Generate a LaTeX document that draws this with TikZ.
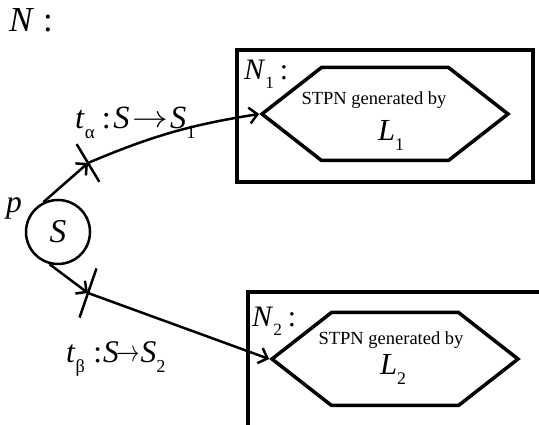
\documentclass[tikz,border=0pt]{standalone}
\usepackage{fontspec}
\setmainfont{Liberation Serif}
\usetikzlibrary{arrows.meta,shapes.symbols}
% lowered small index used in the labels
\newcommand\lowsub[1]{\raisebox{-0.3em}{\scalebox{0.58}{#1}}}
% stretched arrow of the transition labels
\newcommand\maparrow[1]{\raisebox{0.05em}{\scalebox{#1}[1]{$\rightarrow$}}}
% enlarged text set from an 18pt base
\newcommand\grow[2]{\scalebox{#1}{#2}}
\tikzset{
  frame/.style={draw, line width=3.5pt},
  hexa/.style={signal, signal to=west and east, signal from=nowhere,
    signal pointer angle=76, draw, line width=3.5pt, inner sep=0pt,
    minimum width=246pt, minimum height=93pt},
  place/.style={circle, draw, line width=2.5pt, minimum size=64pt, inner sep=0pt,
    font=\fontsize{18}{20}\selectfont},
  trans/.style={rectangle, draw, line width=2.5pt, minimum width=0pt, inner sep=0pt},
  arc/.style={line width=2.5pt, -{Straight Barb[length=8pt,width=16pt]}},
  lbl/.style={font=\fontsize{18}{20}\selectfont, inner sep=0pt},
  small/.style={font=\fontsize{18.5}{20}\selectfont, inner sep=0pt}
}
\begin{document}
\begin{tikzpicture}[x=1pt, y=1pt]
\useasboundingbox (0,0) rectangle (539,425);
\clip (0,0) rectangle (539,425);
\fill[white] (0,0) rectangle (539,425);

% outer net name
\node[lbl, anchor=base west] (nname) at (9,393) {\grow{1.95}{\textit{N}\hspace{0.25em}:}};

% place p with its token S
\node[place] (p) at (58,193) {\grow{1.85}{\textit{S}}};
\node[lbl, anchor=base west] (plab) at (6,212) {\grow{1.75}{\textit{p}}};

% transitions
\node[trans, minimum height=44pt, rotate=31] (t1) at (88,262) {};
\node[trans, minimum height=52pt, rotate=-19] (t2) at (88,132) {};
\node[lbl, anchor=base west] (t1lab) at (75,296)
  {\grow{1.8}{\textit{t}\lowsub{α}\hspace{0.22em}:\hspace{0.08em}\textit{S}\hspace{0.09em}\maparrow{1.15}\hspace{0.06em}\textit{S}\lowsub{1}}};
\node[lbl, anchor=base west] (t2lab) at (66,62)
  {\grow{1.75}{\textit{t}\lowsub{β}\hspace{0.27em}:\hspace{0.03em}\textit{S}\hspace{-0.06em}\maparrow{0.78}\textit{S}\lowsub{2}}};

% subnet N1
\draw[frame] (237,243) rectangle (533,375);
\node[lbl, anchor=base west] (n1lab) at (244,345) {\grow{1.65}{\textit{N}\lowsub{1}\hspace{0.2em}:}};
\node[hexa] (h1) at (385,311) {};
\node[small, anchor=base] (s1) at (374,320) {STPN generated by};
\node[lbl, anchor=base west] (l1) at (378,284) {\grow{1.7}{\textit{L}\lowsub{1}}};

% subnet N2
\draw[frame] (248,-10) rectangle (560,133);
\node[lbl, anchor=base west] (n2lab) at (252,98) {\grow{1.65}{\textit{N}\lowsub{2}\hspace{0.2em}:}};
\node[hexa] (h2) at (395,66) {};
\node[small, anchor=base] (s2) at (391,80) {STPN generated by};
\node[lbl, anchor=base west] (l2) at (380,50) {\grow{1.7}{\textit{L}\lowsub{2}}};

% arcs
\draw[arc] (p.116) -- (t1.center);
\draw[arc] (t1.center) to[bend left=7] (h1.west);
\draw[arc] (p.255) -- (t2.center);
\draw[arc] (t2.center) -- (h2.west);
\end{tikzpicture}
\end{document}
